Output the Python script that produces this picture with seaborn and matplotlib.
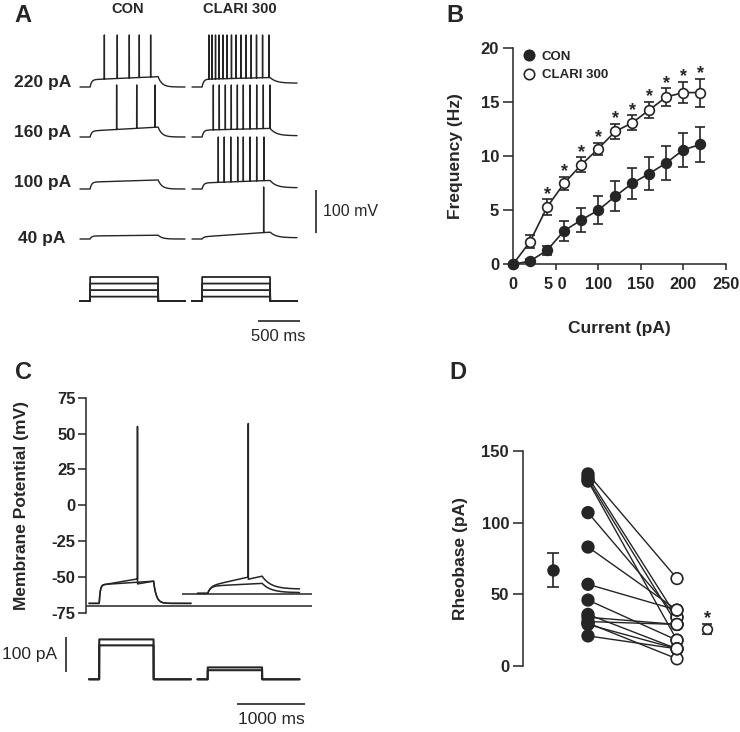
import numpy as np
import pandas as pd
import matplotlib
matplotlib.use("Agg")
import matplotlib.pyplot as plt
from matplotlib.lines import Line2D
import seaborn as sns

sns.set_theme(style="ticks")
plt.rcParams["font.family"] = ["Liberation Sans", "DejaVu Sans"]
plt.rcParams["font.weight"] = "bold"
plt.rcParams["axes.linewidth"] = 1.1
plt.rcParams["axes.unicode_minus"] = False

W, H = 740, 732
INK = "#252525"

# ---------------- A: example traces (spike times in ms, depolarisation in mV)
a_rows = ["220 pA", "160 pA", "100 pA", "40 pA"]
a_step_pa = [220, 160, 100, 40]
a_con_spikes = [[290, 444, 587, 706, 841], [436, 675, 893], [], []]
a_clari_spikes = [
    [202, 240, 280, 322, 368, 418, 470, 526, 585, 645, 705, 768, 840, 915],
    [254, 325, 397, 468, 540, 611, 690, 770, 849, 928],
    [313, 384, 461, 544, 611, 690, 770, 857],
    [853],
]
a_con_dep = [(17, 24), (14, 23), (16, 21), (7, 9)]
a_clari_dep = [(18, 22), (16, 20), (14, 20), (5, 16)]
a_clari_post = [9, 3, 3, 3]

# ---------------- B: frequency vs injected current
b_current = [0, 20, 40, 60, 80, 100, 120, 140, 160, 180, 200, 220]
b_con = [0, 0.3, 1.3, 3.1, 4.1, 5.0, 6.3, 7.5, 8.4, 9.4, 10.6, 11.1]
b_con_sem = [0, 0.2, 0.4, 0.9, 1.15, 1.3, 1.4, 1.45, 1.5, 1.55, 1.6, 1.6]
b_clari = [0, 2.1, 5.3, 7.5, 9.2, 10.7, 12.3, 13.1, 14.3, 15.5, 15.9, 15.9]
b_clari_sem = [0, 0.6, 0.7, 0.6, 0.7, 0.55, 0.72, 0.7, 0.72, 0.8, 1.0, 1.3]
b_xticklabels = ["0", "5 0", "100", "150", "200", "250"]

# ---------------- C: rheobase traces
c_con_current = [114, 97]
c_clari_current = [34, 26]
c_con_rest, c_clari_rest = -68.5, -61.5
c_con_spike, c_clari_spike = 713, 747
c_baselines = [-70.3, -62]

# ---------------- D: rheobase per cell
d_con = [134, 132, 130, 129, 107, 83, 57, 46, 36, 34, 31, 30, 29, 21]
d_clari = [61, 34, 29, 18, 34, 39, 39, 18, 12, 29, 29, 5, 12, 12]
d_mean = [67, 25.6]
d_sem = [12, 3.6]


def px_axes(fig, x0, y0, x1, y1):
    return fig.add_axes([x0 / W, 1 - y1 / H, (x1 - x0) / W, (y1 - y0) / H])


def ftext(fig, x, y, s, **kw):
    fig.text(x / W, 1 - y / H, s, **kw)


def trace(t, on, off, rest, d0, d1, spikes=(), post=0.0, peak=56.0, ahp=0.0,
          tau_on=18.0, tau_off=45.0):
    """Synthetic current-clamp sweep: step depolarisation plus spikes."""
    v = np.full(t.shape, rest, float)
    m = (t >= on) & (t < off)
    dep = (d0 + (d1 - d0) * (t[m] - on) / (off - on)) * (1 - np.exp(-(t[m] - on) / tau_on))
    if len(spikes) and ahp:
        dep = dep - ahp * (t[m] > spikes[-1])
    v[m] = rest + dep
    end = dep[-1]
    m2 = t >= off
    v[m2] = rest + post + (end - post) * np.exp(-(t[m2] - off) / tau_off)
    for s in spikes:
        v[np.searchsorted(t, s)] = peak
    return v


def step(t, on, off, level):
    return np.where((t >= on) & (t < off), level, 0.0)


fig = plt.figure(figsize=(W / 100, H / 100), dpi=100)

# ================= Panel A =================
A_X0, A_CL_X0 = 80, 192
A_BASE = [87, 137, 189, 239]
A_MS_PX, A_MV_PX = 500 / 42, 100 / 43
A_REST, A_ON, A_OFF, A_DUR = -65.0, 120, 930, 1250

axA = px_axes(fig, 75, 25, 335, 250)
axA.set_xlim((75 - A_X0) * A_MS_PX, (335 - A_X0) * A_MS_PX)
axA.set_ylim(A_REST - (250 - A_BASE[0]) * A_MV_PX, A_REST + (A_BASE[0] - 25) * A_MV_PX)
axA.axis("off")

t_a = np.arange(0, A_DUR + 1, 1.0)
cl_off = (A_CL_X0 - A_X0) * A_MS_PX
for i, row in enumerate(a_rows):
    yoff = -(A_BASE[i] - A_BASE[0]) * A_MV_PX
    v_con = trace(t_a, A_ON, A_OFF, A_REST, *a_con_dep[i], spikes=a_con_spikes[i])
    v_cl = trace(t_a, A_ON, A_OFF, A_REST, *a_clari_dep[i], spikes=a_clari_spikes[i],
                 post=a_clari_post[i], tau_off=70)
    sns.lineplot(x=t_a, y=v_con + yoff, ax=axA, color=INK, lw=1.0, estimator=None, sort=False)
    sns.lineplot(x=t_a + cl_off, y=v_cl + yoff, ax=axA, color=INK, lw=1.0, estimator=None, sort=False)

for row, y, x in zip(a_rows, [83, 133, 183, 238], [71, 71, 71, 65]):
    ftext(fig, x, y, row, ha="right", va="center", fontsize=12.5)

# 100 mV scale bar
bar_x = (316 - A_X0) * A_MS_PX
bar_y0 = A_REST - (233 - A_BASE[0]) * A_MV_PX
axA.vlines(bar_x, bar_y0, bar_y0 + 100, color=INK, lw=1.2)
ftext(fig, 323, 211, "100 mV", ha="left", va="center", fontsize=11.5, fontweight="normal")

# stimulus steps
axAs = px_axes(fig, 75, 265, 335, 330)
PA_PX = 220 / 24
axAs.set_xlim(axA.get_xlim())
axAs.set_ylim(-(330 - 301) * PA_PX, (301 - 265) * PA_PX)
axAs.axis("off")
for off in [0, cl_off]:
    for lvl in a_step_pa:
        sns.lineplot(x=t_a + off, y=step(t_a, A_ON, A_OFF, lvl), ax=axAs, color=INK,
                     lw=1.3, estimator=None, sort=False)
ms_y = -(321 - 301) * PA_PX
axAs.hlines(ms_y, (258 - A_X0) * A_MS_PX, (258 - A_X0) * A_MS_PX + 500, color=INK, lw=1.2)
ftext(fig, 278, 336, "500 ms", ha="center", va="center", fontsize=12, fontweight="normal")

ftext(fig, 128, 9, "CON", ha="center", va="center", fontsize=10.5)
ftext(fig, 240, 9, "CLARI 300", ha="center", va="center", fontsize=10.5)

# ================= Panel B =================
axB = px_axes(fig, 513, 48.3, 726, 264.3)
for vals, sem, face in [(b_clari, b_clari_sem, "white"), (b_con, b_con_sem, INK)]:
    axB.errorbar(b_current, vals, yerr=sem, fmt="none", ecolor=INK, elinewidth=1.2,
                 capsize=3.3, capthick=1.2, zorder=2, clip_on=False)
    sns.lineplot(x=b_current, y=vals, ax=axB, color=INK, lw=1.2, marker="o", markersize=7,
                 markerfacecolor=face, markeredgecolor=INK, markeredgewidth=1.2,
                 estimator=None, zorder=3, clip_on=False)
for x, v, s in zip(b_current[2:], b_clari[2:], b_clari_sem[2:]):
    axB.text(x, v + s + 0.05, "*", ha="center", va="baseline", fontsize=13)
axB.set_xlim(0, 250)
axB.set_ylim(0, 20)
axB.set_xticks(range(0, 251, 50))
axB.set_xticklabels(b_xticklabels)
axB.set_yticks(range(0, 21, 5))
axB.tick_params(axis="y", length=7, width=1.1, labelsize=12, pad=3, colors=INK)
axB.tick_params(axis="x", length=4.5, width=1.1, labelsize=11.8, pad=5, colors=INK)
sns.despine(ax=axB)
handles = [
    Line2D([], [], ls="none", marker="o", ms=7.5, mfc=INK, mec=INK, mew=1.2),
    Line2D([], [], ls="none", marker="o", ms=7.5, mfc="white", mec=INK, mew=1.2),
]
axB.legend(handles, ["CON", "CLARI 300"], loc="upper left", bbox_to_anchor=(0.005, 1.025),
           frameon=False, prop={"weight": "bold", "size": 9.5}, handlelength=1.0,
           handletextpad=0.5, labelspacing=0.45, borderaxespad=0.2)
ftext(fig, 455, 156, "Frequency (Hz)", rotation=90, ha="center", va="center", fontsize=12.5)
ftext(fig, 619, 328, "Current (pA)", ha="center", va="center", fontsize=12.5)

# ================= Panel C =================
C_X0, C_CL_X0 = 89, 197.5
C_MS_PX = 1000 / 68
C_ON, C_OFF, C_DUR = 150, 950, 1500
axC = px_axes(fig, 86, 397.7, 320, 612.7)
axC.set_xlim((86 - C_X0) * C_MS_PX, (320 - C_X0) * C_MS_PX)
axC.set_ylim(-75, 75)
axC.set_yticks(range(-75, 76, 25))
axC.tick_params(axis="y", length=5.5, width=1.1, labelsize=12, pad=2, colors=INK)
axC.set_xticks([])
sns.despine(ax=axC, bottom=True)

t_c = np.arange(0, C_DUR + 1, 1.0)
c_off = (C_CL_X0 - C_X0) * C_MS_PX
sweeps = [
    (0, trace(t_c, C_ON, C_OFF, c_con_rest, 12.5, 19, spikes=[c_con_spike], peak=55, ahp=3.5, tau_on=15, tau_off=40)),
    (0, trace(t_c, C_ON, C_OFF, c_con_rest, 13, 15.5, tau_on=15, tau_off=40)),
    (c_off, trace(t_c, C_ON, C_OFF, c_clari_rest, 5, 13.5, spikes=[c_clari_spike], peak=57, ahp=1.5, post=3, tau_on=40, tau_off=130)),
    (c_off, trace(t_c, C_ON, C_OFF, c_clari_rest, 5, 7, post=0.5, tau_on=40, tau_off=130)),
]
for off, v in sweeps:
    sns.lineplot(x=t_c + off, y=v, ax=axC, color=INK, lw=1.1, estimator=None, sort=False, clip_on=False)
axC.hlines(c_baselines[0], (86 - C_X0) * C_MS_PX, (312 - C_X0) * C_MS_PX, color=INK, lw=1.1, clip_on=False)
axC.hlines(c_baselines[1], (182 - C_X0) * C_MS_PX, (312 - C_X0) * C_MS_PX, color=INK, lw=1.1, clip_on=False)
ftext(fig, 22, 505, "Membrane Potential (mV)", rotation=90, ha="center", va="center", fontsize=12.5)

# current injection
PA_PX_C = 100 / 35
axCi = px_axes(fig, 86, 630, 320, 690)
axCi.set_xlim(axC.get_xlim())
axCi.set_ylim(-(690 - 679.3) * PA_PX_C, (679.3 - 630) * PA_PX_C)
axCi.axis("off")
for off, levels in [(0, c_con_current), (c_off, c_clari_current)]:
    for lvl in levels:
        sns.lineplot(x=t_c + off, y=step(t_c, C_ON, C_OFF, lvl), ax=axCi, color=INK,
                     lw=1.5, estimator=None, sort=False)
sb_y0 = (679.3 - 672) * PA_PX_C
axCi.vlines((66 - C_X0) * C_MS_PX, sb_y0, sb_y0 + 100, color=INK, lw=1.2, clip_on=False)
ftext(fig, 57, 655, "100 pA", ha="right", va="center", fontsize=12.5, fontweight="normal")
ms_yc = -(704 - 679.3) * PA_PX_C
axCi.hlines(ms_yc, (237 - C_X0) * C_MS_PX, (237 - C_X0) * C_MS_PX + 1000, color=INK, lw=1.2, clip_on=False)
ftext(fig, 271, 720, "1000 ms", ha="center", va="center", fontsize=12.5, fontweight="normal")

# ================= Panel D =================
axD = px_axes(fig, 523, 451, 725, 666)
pos = {"CON": 65, "CLARI 300": 154}
cells = pd.DataFrame({
    "cell": list(range(len(d_con))) * 2,
    "group": ["CON"] * len(d_con) + ["CLARI 300"] * len(d_clari),
    "rheobase": d_con + d_clari,
})
cells["pos"] = cells["group"].map(pos)
sns.lineplot(data=cells, x="pos", y="rheobase", units="cell", estimator=None,
             color=INK, lw=1.0, ax=axD, zorder=1)
sns.scatterplot(data=cells, x="pos", y="rheobase", hue="group",
                palette={"CON": INK, "CLARI 300": "white"}, edgecolor=INK, linewidth=1.2,
                s=70, legend=False, ax=axD, zorder=3, clip_on=False)
axD.errorbar([30], d_mean[:1], yerr=d_sem[:1], fmt="o", ms=8, mfc=INK, mec=INK,
             color=INK, elinewidth=1.2, capsize=4, capthick=1.2)
axD.errorbar([184], d_mean[1:], yerr=d_sem[1:], fmt="o", ms=7, mfc="white", mec=INK,
             mew=1.2, color=INK, elinewidth=1.2, capsize=3.5, capthick=1.2)
axD.text(184, d_mean[1] + d_sem[1] + 0.5, "*", ha="center", va="baseline", fontsize=13)
axD.set_xlim(0, 202)
axD.set_ylim(0, 150)
axD.set_yticks([0, 50, 100, 150])
axD.set_xticks([])
axD.tick_params(axis="y", length=7, width=1.1, labelsize=12, pad=3, colors=INK)
sns.despine(ax=axD, bottom=True)
ftext(fig, 460, 558, "Rheobase (pA)", rotation=90, ha="center", va="center", fontsize=12.5)

# panel letters
for letter, x, y in [("A", 23, 15), ("B", 455, 15), ("C", 23, 373), ("D", 458, 373)]:
    ftext(fig, x, y, letter, ha="center", va="center", fontsize=17)

for ax in [axB, axC, axD]:
    ax.set_xlabel("")
    ax.set_ylabel("")

fig.savefig("out.png", dpi=100)
